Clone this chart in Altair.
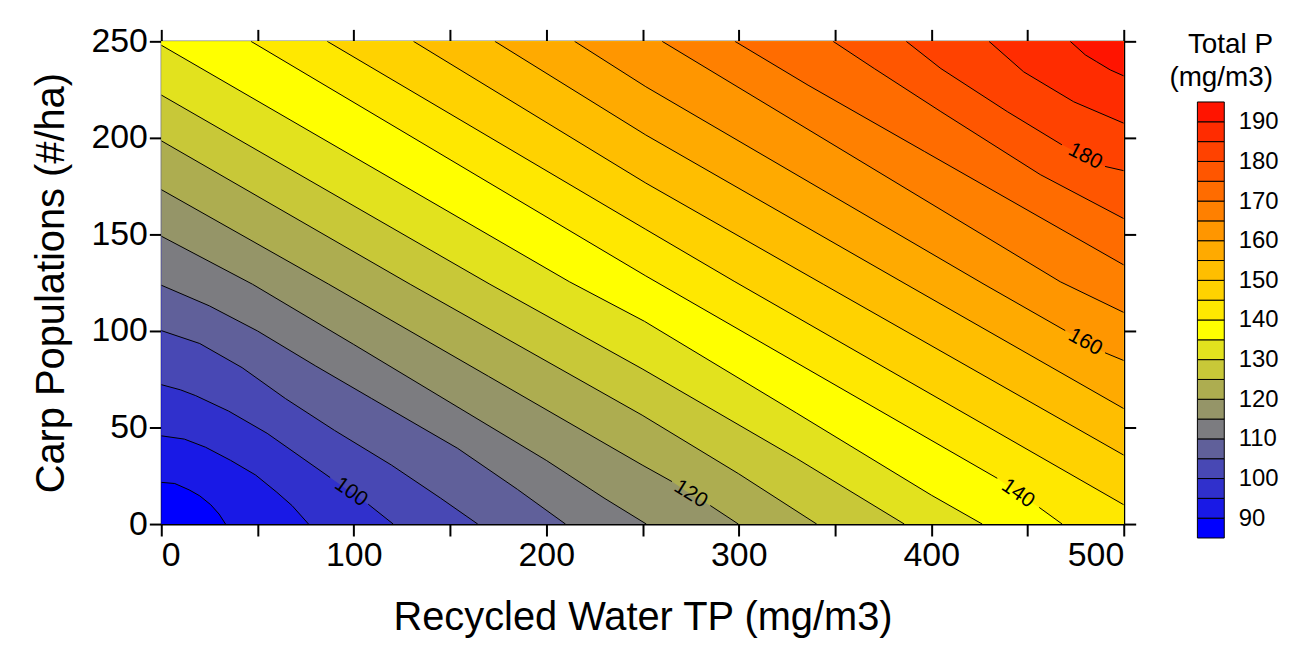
import altair as alt
import pandas as pd

FONT = "Liberation Sans"
X_MAX, Y_MAX = 500, 250
PLOT_W, PLOT_H = 967, 485

X_TICKS = [0, 50, 100, 150, 200, 250, 300, 350, 400, 450, 500]
Y_TICKS = [0, 50, 100, 150, 200, 250]
LEGEND_LABELS = [90, 100, 110, 120, 130, 140, 150, 160, 170, 180, 190]

# contour levels (mg/m3) and the colour of each band: <90, 90-95, ..., 185-190, >190
LEVELS = [90, 95, 100, 105, 110, 115, 120, 125, 130, 135, 140,
          145, 150, 155, 160, 165, 170, 175, 180, 185, 190]
BAND_COLORS = ["#0000ff", "#1919e6", "#3030cc", "#4848b4", "#60609a", "#7c7c80",
               "#959568", "#adad50", "#c8c838", "#e2e21e", "#ffff00", "#ffe800",
               "#ffd200", "#ffbe00", "#ffaa00", "#ff9600", "#ff8000", "#ff6c00",
               "#ff5600", "#ff4200", "#ff2c00", "#ff1400"]

# contour lines: (Recycled Water TP, Carp Populations)
C090 = [(0, 21.6), (7, 21.0), (14.5, 17.7), (20, 14.6), (25.7, 10), (30, 5.2), (33.4, 0)]
C095 = [(0, 45.7), (12, 44), (23, 39.8), (36, 33), (49, 25.4), (60, 16.5), (68, 9.5), (76.5, 0)]
C100 = [(0, 72.2), (10, 69.5), (17.9, 66.5), (35, 58.5), (55, 47), (70, 36.5), (87.7, 24.1),
        (98.5, 16.5), (107.5, 10.3), (120.5, 0)]
C105 = [(0, 100.2), (20, 93.5), (42, 81), (64.5, 65), (90, 48.5), (119.5, 30.6), (145, 13.5), (164.4, 0)]
C110 = [(0, 123.7), (25, 113), (50, 100), (80, 82), (109.3, 65), (154, 39.2), (185, 18), (210, 0)]
C115 = [(0, 149.1), (47.4, 124.2), (100, 93), (150, 63), (200, 33), (230, 13.5), (252, 0)]
C120 = [(0, 173.2), (87, 124.2), (170, 76.5), (249.8, 30.6), (265.3, 22), (275, 15.5), (285.2, 9.6), (299.8, 0)]
C125 = [(0, 198.5), (129.3, 124.2), (249.8, 56.4), (300, 26), (340.5, 0)]
C130 = [(0, 222.2), (170.7, 124.2), (249.8, 80.4), (330, 34), (386, 0)]
C135 = [(0, 248), (212, 125.5), (251, 105), (330, 57.5), (400, 15), (426.5, 0)]
C140 = [(46.6, 250), (251.7, 128.5), (434.3, 23.7), (445, 15.8), (456.1, 8.6), (468, 0)]
C145 = [(86.2, 250), (251.7, 152.6), (298, 125.5), (500, 10)]
C150 = [(131, 250), (251.7, 176.6), (343.9, 124.2), (500, 35.7)]
C155 = [(173.3, 250), (251.7, 201.5), (386.9, 124.2), (500, 59.8)]
C160 = [(214.7, 250), (251.7, 226.5), (427.4, 124.2), (469.6, 100.2), (480, 94.2), (490.3, 88.7), (500, 84.7)]
C165 = [(260.2, 250), (467, 125.5), (500, 109.6)]
C170 = [(298, 250), (336, 227.3), (396.4, 193), (500, 134.2)]
C175 = [(349, 250), (370.4, 235.9), (405, 213.6), (456.6, 181), (500, 158.2)]
C180 = [(387, 250), (405, 235.9), (439.5, 213.6), (467.9, 196.4), (480, 190.4), (490.3, 185.2), (500, 183)]
C185 = [(430, 250), (448, 234.2), (474, 218.7), (500, 207.6)]
C190 = [(472.2, 250), (480, 243), (486, 239.4), (493, 235.2), (500, 232.1)]

CONTOURS = [C090, C095, C100, C105, C110, C115, C120, C125, C130, C135, C140,
            C145, C150, C155, C160, C165, C170, C175, C180, C185, C190]

# where each labelled line is broken for its label (x range)
GAP_LEVELS = [100, 120, 140, 160, 180]
GAP_LO = [87.7, 265.3, 434.3, 469.6, 467.9]
GAP_HI = [107.5, 285.2, 456.1, 490.3, 490.3]

LABEL_TEXT = ["100", "120", "140", "160", "180"]
LABEL_X = [98.5, 275, 445, 480, 480]
LABEL_Y = [16.5, 15.5, 15.8, 94.2, 190.4]
LABEL_ANGLE = [35, 32, 35, 29, 27]

xscale = alt.Scale(domain=[0, X_MAX], nice=False, zero=False)
yscale = alt.Scale(domain=[0, Y_MAX], nice=False, zero=False)

base = alt.Chart(pd.DataFrame({"a": [0]})).mark_rect(color=BAND_COLORS[0]).encode(
    x=alt.value(0), x2=alt.value(PLOT_W), y=alt.value(0), y2=alt.value(PLOT_H)
)

layers = [base]
line_rows = []
for i, (lev, pts) in enumerate(zip(LEVELS, CONTOURS)):
    col = BAND_COLORS[i + 1]
    area_pts = list(pts)
    last = pts[-1]
    if last[1] == 0 and last[0] < X_MAX:
        # beyond the point where the line leaves the bottom edge, the whole column is above this level
        area_pts.append((X_MAX, 0))
    df = pd.DataFrame({"x": [p[0] for p in area_pts], "y": [p[1] for p in area_pts]})
    layers.append(
        alt.Chart(df).mark_area(color=col, clip=True, interpolate="linear").encode(
            x=alt.X("x:Q", scale=xscale, axis=None),
            y=alt.Y("y:Q", scale=yscale, axis=None),
            y2=alt.datum(Y_MAX),
        )
    )
    if lev in GAP_LEVELS:
        k = GAP_LEVELS.index(lev)
        lo, hi = GAP_LO[k], GAP_HI[k]
    else:
        lo, hi = None, None
    for (px, py) in pts:
        if lo is None or px <= lo:
            seg = f"{lev}a"
        elif px >= hi:
            seg = f"{lev}b"
        else:
            continue
        line_rows.append({"x": px, "y": py, "seg": seg})

lines = alt.Chart(pd.DataFrame(line_rows)).mark_line(
    color="black", strokeWidth=1, clip=True, interpolate="linear"
).encode(
    x=alt.X("x:Q", scale=xscale, title="Recycled Water TP (mg/m3)",
            axis=alt.Axis(orient="bottom", values=X_TICKS,
                          labelExpr="datum.value % 100 == 0 ? datum.label : ''",
                          labelPadding=3, titlePadding=25)),
    y=alt.Y("y:Q", scale=yscale, title="Carp Populations (#/ha)",
            axis=alt.Axis(orient="left", values=Y_TICKS, labelPadding=2, titlePadding=20)),
    detail="seg:N",
)

lab_df = pd.DataFrame({"t": LABEL_TEXT, "x": LABEL_X, "y": LABEL_Y, "a": LABEL_ANGLE})
labels = alt.Chart(lab_df).mark_text(
    font=FONT, fontSize=21, color="black", align="center", baseline="middle"
).encode(
    x=alt.X("x:Q", scale=xscale, title=None,
            axis=alt.Axis(orient="top", values=X_TICKS, labels=False)),
    y=alt.Y("y:Q", scale=yscale, title=None,
            axis=alt.Axis(orient="right", values=Y_TICKS, labels=False)),
    text="t:N",
    angle=alt.Angle("a:Q", scale=None),
)

main = alt.layer(*layers, lines, labels).resolve_axis(
    x="independent", y="independent"
).properties(width=PLOT_W, height=PLOT_H)

LEG_TOP = 210.3
leg_df = pd.DataFrame({
    "lo": [85 + 5 * k for k in range(len(BAND_COLORS))],
    "hi": [90 + 5 * k for k in range(len(BAND_COLORS))],
    "c": BAND_COLORS,
})
legend = alt.Chart(leg_df).mark_rect(stroke="black", strokeWidth=1).encode(
    x=alt.value(0), x2=alt.value(27),
    y=alt.Y("lo:Q", scale=alt.Scale(domain=[85, LEG_TOP], nice=False, zero=False),
            axis=alt.Axis(orient="right", values=LEGEND_LABELS, ticks=False, tickSize=0,
                          domain=False, labelPadding=14, labelFontSize=24, title=None)),
    y2="hi:Q",
    color=alt.Color("c:N", scale=None),
).properties(
    width=27, height=499,
    title=alt.TitleParams(["Total P", "(mg/m3)"], fontSize=28, font=FONT,
                          fontWeight="normal", color="black", anchor="end",
                          align="right", offset=-51, lineHeight=33, dx=-5),
)

chart = alt.hconcat(main, legend, spacing=32).properties(
    padding={"left": 23, "top": 15, "right": 2, "bottom": 0},
    background="white",
).configure_view(stroke=None).configure_axis(
    domainColor="black", domainWidth=2, tickColor="black", tickWidth=2, tickSize=12,
    labelFont=FONT, labelFontSize=34, labelColor="black",
    titleFont=FONT, titleFontSize=40, titleColor="black", titleFontWeight="normal",
    grid=False,
)

chart.save("out.html", embed_options={"renderer": "svg", "actions": False})
